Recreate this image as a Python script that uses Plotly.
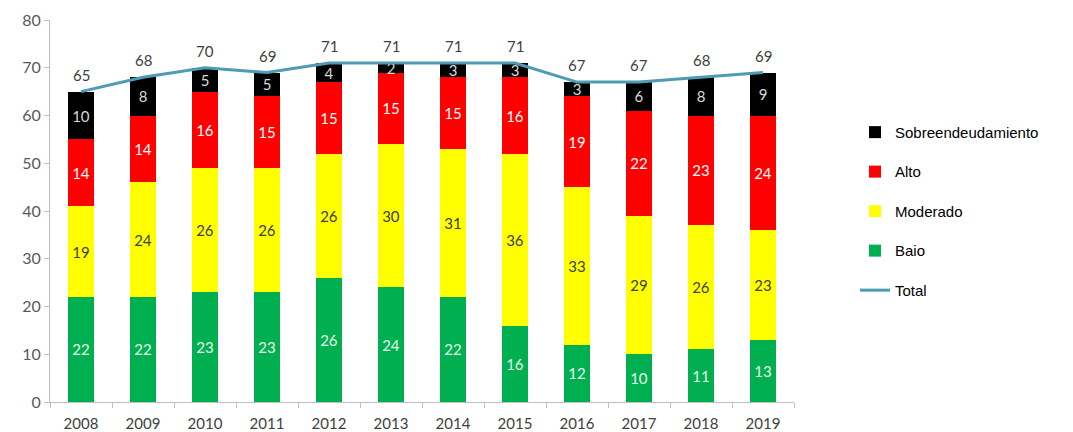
import plotly.graph_objects as go

years = ["2008", "2009", "2010", "2011", "2012", "2013", "2014", "2015", "2016", "2017", "2018", "2019"]
baio = [22, 22, 23, 23, 26, 24, 22, 16, 12, 10, 11, 13]
moderado = [19, 24, 26, 26, 26, 30, 31, 36, 33, 29, 26, 23]
alto = [14, 14, 16, 15, 15, 15, 15, 16, 19, 22, 23, 24]
sobre = [10, 8, 5, 5, 4, 2, 3, 3, 3, 6, 8, 9]
total = [65, 68, 70, 69, 71, 71, 71, 71, 67, 67, 68, 69]

FONT = "Lato"
fig = go.Figure()

def bar(name, vals, color, tcolor, rank):
    fig.add_trace(go.Bar(
        x=years, y=vals, name=name, marker=dict(color=color, line=dict(width=0)),
        text=vals, textposition="inside", insidetextanchor="middle", textangle=0,
        textfont=dict(color=tcolor, size=15, family=FONT),
        legendgroup=name, legendrank=rank, hoverinfo="x+y+name"))

bar("Baio", baio, "#00b050", "#e8f5ec", 4)
bar("Moderado", moderado, "#ffff00", "#404040", 3)
bar("Alto", alto, "#ff0000", "#ffffff", 2)
bar("Sobreendeudamiento", sobre, "#000000", "#d9d9d9", 1)

fig.add_trace(go.Scatter(
    x=years, y=total, name="Total", mode="lines",
    line=dict(color="#4e9bb4", width=3),
    legendgroup="Total", legendrank=5))

for i, t in enumerate(total):
    fig.add_annotation(x=i, y=t, xref="x", yref="y", text=str(t), showarrow=False, yshift=17,
                       font=dict(color="#404040", size=15, family=FONT))

fig.update_layout(
    barmode="stack", bargap=0.58,
    width=1065, height=424,
    margin=dict(l=42, r=279, t=12, b=30),
    plot_bgcolor="white", paper_bgcolor="white",
    uniformtext=dict(minsize=15, mode="show"),
    showlegend=True,
    legend=dict(x=1.082, y=0.749, xanchor="left", yanchor="top",
                traceorder="grouped", tracegroupgap=17,
                font=dict(family="Liberation Sans, Arial", size=15, color="#000000"),
                itemwidth=30),
    font=dict(family=FONT, size=14, color="#595959"),
)
fig.update_xaxes(type="category", range=[-0.5, len(years) - 0.5],
                 showline=True, linecolor="#bfbfbf", linewidth=1,
                 ticks="outside", tickson="boundaries", ticklen=5, tickcolor="#bfbfbf",
                 ticklabelstandoff=8, automargin=False,
                 tickfont=dict(family=FONT, size=15, color="#404040"), showgrid=False)
fig.update_yaxes(range=[0, 80], dtick=10, showline=True, linecolor="#bfbfbf", linewidth=1,
                 ticks="outside", ticklen=5, tickcolor="#bfbfbf", showgrid=False, zeroline=False,
                 automargin=False,
                 tickfont=dict(family=FONT, size=16, color="#595959"))

fig.write_html("out.html")
